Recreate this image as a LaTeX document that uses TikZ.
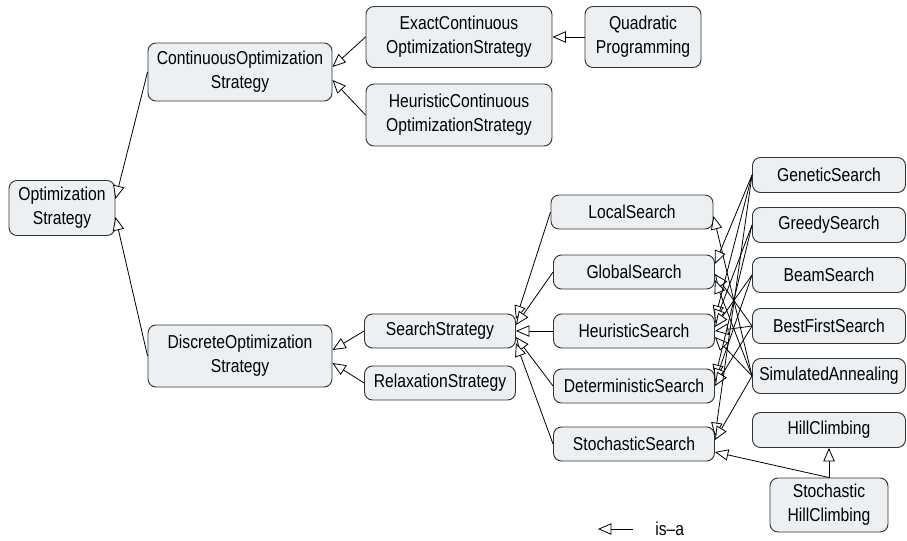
\documentclass[tikz,border=0pt]{standalone}
\usepackage{fontspec}
\setmainfont[FakeStretch=0.84]{Liberation Sans}
\usetikzlibrary{arrows.meta,calc}

% is-a link: from the subclass (west side) to a point on the superclass' east side
\newcommand\isaedge[3]{\draw[isa] (#1.west) -- ($(#2.east)+(0,#3)$);}

\begin{document}
\begin{tikzpicture}[x=0.75pt,y=-0.75pt,
  cls/.style={draw=black!80, fill={rgb,255:red,237;green,240;blue,242},
    rounded corners=6pt, line width=0.7pt, align=center, inner sep=0pt,
    text=black, font=\fontsize{14}{18}\selectfont},
  sz/.style 2 args={minimum width=#1*0.75pt, minimum height=#2*0.75pt},
  isa/.style={line width=0.6pt,
    -{Triangle[length=10pt,width=8.5pt,fill=white,line width=0.6pt]}},
]
\useasboundingbox (0,0) rectangle (907,540);

% root and the two main branches
\node[cls, sz={106}{55}] (opt) at (62,208) {Optimization\\Strategy};
\node[cls, sz={184}{58}] (cont) at (240,72) {ContinuousOptimization\\Strategy};
\node[cls, sz={184}{62}] (disc) at (240,356) {DiscreteOptimization\\Strategy};

% continuous side
\node[cls, sz={186}{61}] (exact) at (459,37) {ExactContinuous\\OptimizationStrategy};
\node[cls, sz={116}{61}] (quad) at (643,37) {Quadratic\\Programming};
\node[cls, sz={186}{62}] (hcont) at (459,115) {HeuristicContinuous\\OptimizationStrategy};

% discrete side
\node[cls, sz={151}{34}] (search) at (440,331) {SearchStrategy};
\node[cls, sz={151}{34}] (relax) at (440,383) {RelaxationStrategy};

\node[cls, sz={162}{34}] (local) at (632,212) {LocalSearch};
\node[cls, sz={161}{34}] (global) at (634,272) {GlobalSearch};
\node[cls, sz={161}{34}] (heur) at (634,331) {HeuristicSearch};
\node[cls, sz={161}{34}] (determ) at (634,386) {DeterministicSearch};
\node[cls, sz={161}{34}] (stoch) at (634,444) {StochasticSearch};

\node[cls, sz={153}{35}] (genetic) at (829,175) {GeneticSearch};
\node[cls, sz={153}{35}] (greedy) at (829,225) {GreedySearch};
\node[cls, sz={153}{35}] (beam) at (829,275) {BeamSearch};
\node[cls, sz={153}{35}] (bestfirst) at (829,326) {BestFirstSearch};
\node[cls, sz={153}{35}] (simann) at (829,376) {SimulatedAnnealing};
\node[cls, sz={153}{35}] (hill) at (829,430) {HillClimbing};
\node[cls, sz={118}{54}] (shc) at (829,505) {Stochastic\\HillClimbing};

% is-a links
\isaedge{cont}{opt}{-9}
\isaedge{disc}{opt}{9}
\isaedge{exact}{cont}{-5}
\isaedge{hcont}{cont}{8}
\isaedge{quad}{exact}{0}
\isaedge{search}{disc}{-6}
\isaedge{relax}{disc}{7}
\isaedge{local}{search}{-12}
\isaedge{global}{search}{-6}
\isaedge{heur}{search}{0}
\isaedge{determ}{search}{6}
\isaedge{stoch}{search}{12}

\isaedge{simann}{local}{4}
\isaedge{genetic}{global}{-8}
\isaedge{bestfirst}{global}{2}
\isaedge{simann}{global}{8}
\isaedge{genetic}{heur}{-12}
\isaedge{greedy}{heur}{-8}
\isaedge{beam}{heur}{-4}
\isaedge{bestfirst}{heur}{0}
\isaedge{simann}{heur}{6}
\isaedge{greedy}{determ}{-8}
\isaedge{beam}{determ}{-4}
\isaedge{bestfirst}{determ}{0}
\isaedge{genetic}{stoch}{-8}
\isaedge{simann}{stoch}{-4}
\draw[isa] (shc.north) -- ($(stoch.east)+(0,8)$);
\draw[isa] (shc.north) -- (hill.south);

% legend
\coordinate (legtail) at (633,529);
\coordinate (legtip) at (598,529);
\draw[isa] (legtail) -- (legtip);
\node[anchor=west, inner sep=0pt, text=black, font=\fontsize{14}{18}\selectfont] (legtext) at (655,529) {is–a};
\end{tikzpicture}
\end{document}
